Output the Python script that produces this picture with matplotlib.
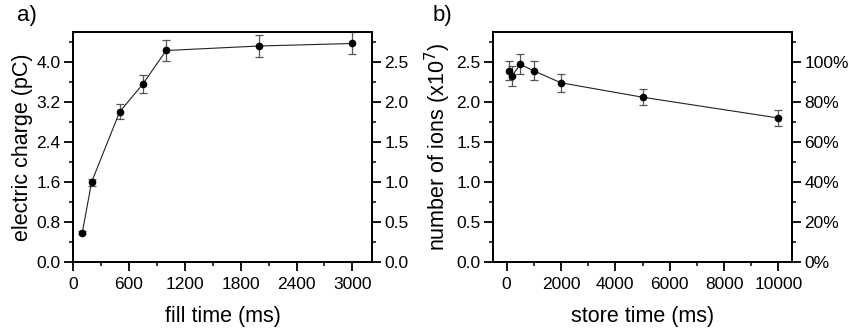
import numpy as np
import matplotlib
matplotlib.use("Agg")
import matplotlib.pyplot as plt
from matplotlib.ticker import MultipleLocator, FuncFormatter

plt.rcParams['font.family'] = ['Liberation Sans', 'DejaVu Sans']

# panel a: fill time vs electric charge
fill_time = [100, 200, 500, 750, 1000, 2000, 3000]
charge = [0.59, 1.60, 3.00, 3.56, 4.23, 4.32, 4.37]
charge_err = [0.03, 0.07, 0.15, 0.18, 0.21, 0.22, 0.22]

# panel b: store time vs number of ions (x10^7)
store_time = [100, 200, 500, 1000, 2000, 5000, 10000]
ions = [2.39, 2.325, 2.47, 2.39, 2.24, 2.06, 1.80]
ions_err = [0.12, 0.12, 0.125, 0.12, 0.11, 0.10, 0.094]

PC_PER_ION = 1.6  # 4.0 pC <-> 2.5 x10^7 ions

TICK_FS = 12.5
LABEL_FS = 15.5

fig = plt.figure(figsize=(8.57, 3.34), dpi=100)
W, H = 857, 334


def pix_axes(x0, x1, y0, y1):
    return fig.add_axes([x0 / W, (H - y1) / H, (x1 - x0) / W, (y1 - y0) / H])


def style(ax):
    for s in ax.spines.values():
        s.set_linewidth(1.3)
    ax.tick_params(which='major', direction='out', length=6.5, width=1.3,
                   labelsize=TICK_FS, top=False, pad=2.5)
    ax.tick_params(which='minor', direction='out', length=3.2, width=1.1, top=False)
    ax.tick_params(axis='x', which='major', pad=4.5)


def draw(ax, x, y, e):
    ax.errorbar(x, y, yerr=e, fmt='none', ecolor='#555555', elinewidth=0.9,
                capsize=3.2, capthick=0.9, zorder=2)
    ax.plot(x, y, '-', color='#222222', lw=0.8, zorder=3)
    ax.plot(x, y, 'o', color='black', ms=4.5, zorder=4)


# ---- a)
ax1 = pix_axes(73, 372, 32, 262)
draw(ax1, fill_time, charge, charge_err)
ax1.set_xlim(0, 3210)
ax1.set_ylim(0, 4.6)
ax1.xaxis.set_major_locator(MultipleLocator(600))
ax1.xaxis.set_minor_locator(MultipleLocator(300))
ax1.yaxis.set_major_locator(MultipleLocator(0.8))
ax1.yaxis.set_minor_locator(MultipleLocator(0.4))
ax1.yaxis.set_major_formatter(FuncFormatter(lambda v, p: f'{v:.1f}'))
ax1.set_xlabel('fill time (ms)', fontsize=LABEL_FS, labelpad=10)
ax1.set_ylabel('electric charge (pC)', fontsize=LABEL_FS, labelpad=2)
style(ax1)
ax1r = ax1.twinx()
ax1r.set_ylim(0, 4.6 / PC_PER_ION)
ax1r.yaxis.set_major_locator(MultipleLocator(0.5))
ax1r.yaxis.set_minor_locator(MultipleLocator(0.25))
ax1r.yaxis.set_major_formatter(FuncFormatter(lambda v, p: f'{v:.1f}'))
style(ax1r)
fig.text(17 / W, 1 - 15 / H, 'a)', fontsize=16, va='center')

# ---- b)
ax2 = pix_axes(493, 792, 32, 262)
draw(ax2, store_time, ions, ions_err)
ax2.set_xlim(-500, 10500)
ax2.set_ylim(0, 2.875)
ax2.xaxis.set_major_locator(MultipleLocator(2000))
ax2.xaxis.set_minor_locator(MultipleLocator(1000))
ax2.yaxis.set_major_locator(MultipleLocator(0.5))
ax2.yaxis.set_minor_locator(MultipleLocator(0.25))
ax2.yaxis.set_major_formatter(FuncFormatter(lambda v, p: f'{v:.1f}'))
ax2.set_xlabel('store time (ms)', fontsize=LABEL_FS, labelpad=10)
ax2.set_ylabel('number of ions (x10$^7$)', fontsize=LABEL_FS, labelpad=2)
style(ax2)
ax2r = ax2.twinx()
ax2r.set_ylim(0, 2.875 / 2.5 * 100)
ax2r.yaxis.set_major_locator(MultipleLocator(20))
ax2r.yaxis.set_minor_locator(MultipleLocator(10))
ax2r.yaxis.set_major_formatter(FuncFormatter(lambda v, p: f'{v:.0f}%'))
style(ax2r)
fig.text(433 / W, 1 - 15 / H, 'b)', fontsize=16, va='center')

fig.savefig('out.png', dpi=100)
